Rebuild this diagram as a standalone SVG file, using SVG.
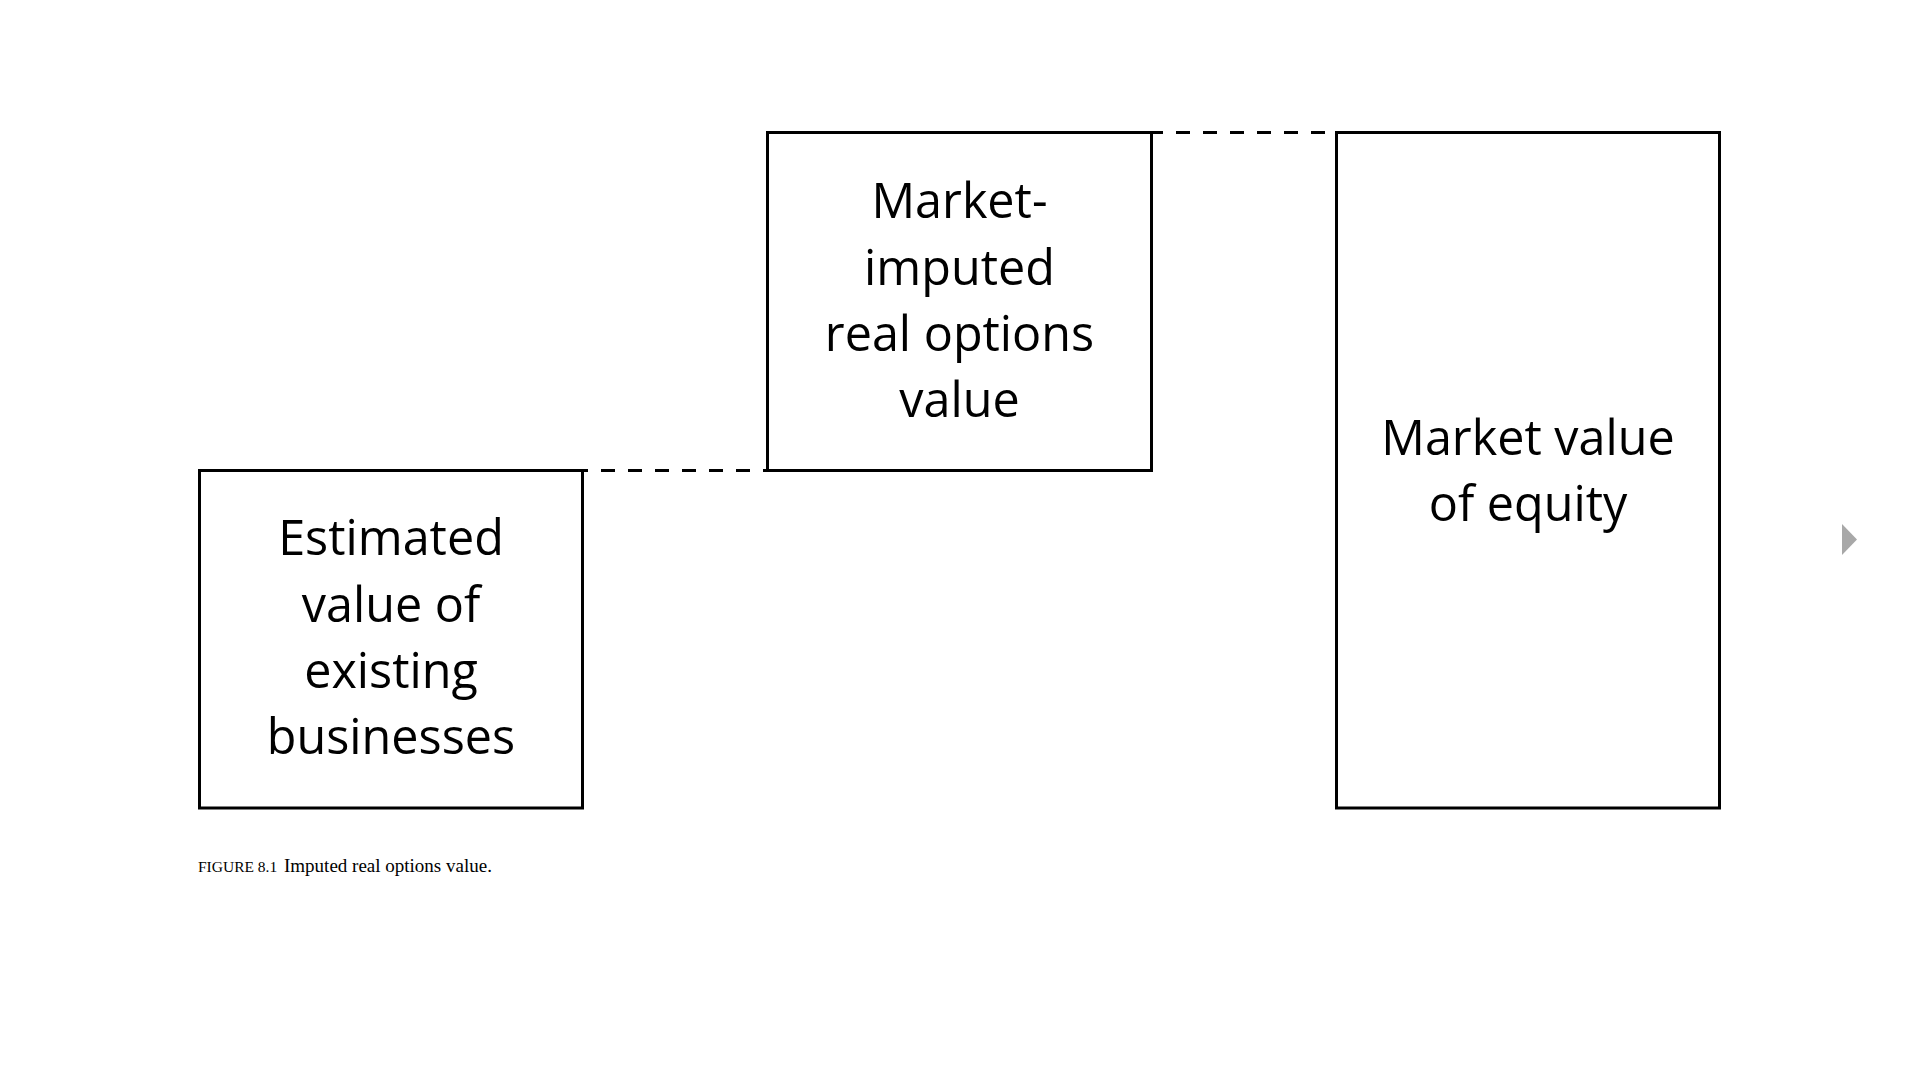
<svg xmlns="http://www.w3.org/2000/svg" width="1920" height="1080" viewBox="0 0 1920 1080">
<style>
.box{fill:#fff;stroke:#000;stroke-width:3}
.lbl{font-family:"Open Sans","Noto Sans",sans-serif;font-size:48.5px;fill:#000;text-anchor:middle}
.dash{stroke:#000;stroke-width:3;stroke-dasharray:14 13;fill:none}
.cap{font-family:"Liberation Serif",serif;font-size:19px;fill:#000}
</style>
<rect width="1920" height="1080" fill="#fff"/>
<g id="connectors">
<line class="dash" x1="582" y1="470.5" x2="768" y2="470.5" stroke-dashoffset="8"/>
<line class="dash" x1="1151" y1="132.5" x2="1337" y2="132.5" stroke-dashoffset="2"/>
</g>
<g id="node-existing">
<rect class="box" x="199.5" y="470.5" width="383" height="337.5"/>
<text class="lbl" x="391" y="555">Estimated</text>
<text class="lbl" x="391" y="621.5">value of</text>
<text class="lbl" x="391" y="688">existing</text>
<text class="lbl" x="391" y="754">businesses</text>
</g>
<g id="node-options">
<rect class="box" x="767.5" y="132.5" width="384" height="338"/>
<text class="lbl" x="959.5" y="218">Market-</text>
<text class="lbl" x="959.5" y="285">imputed</text>
<text class="lbl" x="959.5" y="351">real options</text>
<text class="lbl" x="959.5" y="417">value</text>
</g>
<g id="node-equity">
<rect class="box" x="1336.5" y="132.5" width="383" height="675.5"/>
<text class="lbl" x="1528" y="455">Market value</text>
<text class="lbl" x="1528" y="521">of equity</text>
</g>
<text class="cap" x="198" y="872"><tspan font-size="15.5">FIGURE 8.1</tspan><tspan x="284">Imputed real options value.</tspan></text>
<polygon points="1842,524 1857,539.5 1842,555" fill="#a8a8a8"/>
</svg>
